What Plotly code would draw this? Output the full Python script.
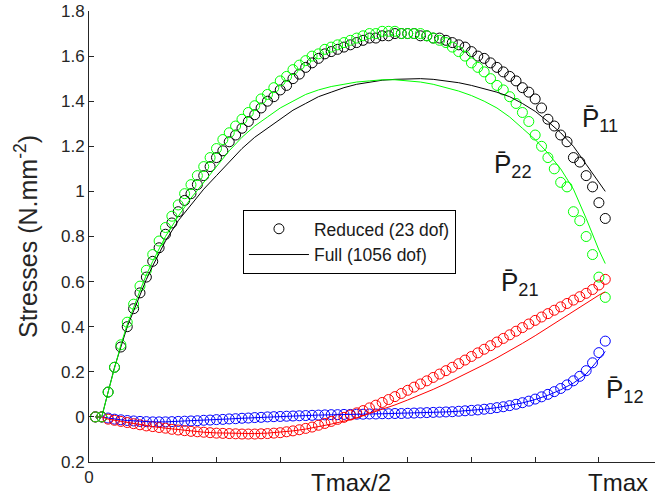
import plotly.graph_objects as go

# ---------------- data ----------------
t_red = list(range(1, 82))  # sample index (Tmax = 80)

p11_reduced = [0, 0, 0.11, 0.22, 0.31, 0.40, 0.48, 0.55, 0.62, 0.69,
               0.75, 0.81, 0.86, 0.91, 0.96, 0.99, 1.03, 1.07, 1.11, 1.15,
               1.18, 1.22, 1.25, 1.28, 1.31, 1.34, 1.37, 1.40, 1.42, 1.45,
               1.47, 1.50, 1.52, 1.55, 1.57, 1.59, 1.61, 1.62, 1.63, 1.64,
               1.65, 1.66, 1.67, 1.68, 1.68, 1.69, 1.69, 1.70, 1.70, 1.70,
               1.70, 1.69, 1.69, 1.68, 1.68, 1.67, 1.66, 1.65, 1.64, 1.62,
               1.60, 1.59, 1.57, 1.55, 1.53, 1.51, 1.49, 1.46, 1.44, 1.41,
               1.37, 1.32, 1.29, 1.25, 1.22, 1.15, 1.13, 1.07, 1.02, 0.95,
               0.88]

p22_reduced = [0, 0, 0.11, 0.22, 0.32, 0.42, 0.50, 0.58, 0.65, 0.72,
               0.78, 0.84, 0.89, 0.94, 0.99, 1.03, 1.07, 1.11, 1.15, 1.19,
               1.23, 1.26, 1.29, 1.32, 1.35, 1.38, 1.41, 1.43, 1.46, 1.49,
               1.51, 1.54, 1.56, 1.58, 1.60, 1.61, 1.63, 1.64, 1.65, 1.66,
               1.67, 1.68, 1.69, 1.70, 1.70, 1.71, 1.71, 1.71, 1.70, 1.70,
               1.70, 1.70, 1.69, 1.68, 1.67, 1.66, 1.64, 1.62, 1.60, 1.57,
               1.55, 1.53, 1.50, 1.47, 1.45, 1.42, 1.39, 1.35, 1.31, 1.25,
               1.20, 1.15, 1.10, 1.04, 1.02, 0.91, 0.87, 0.80, 0.72, 0.62,
               0.53]

p21_reduced = [0.00, 0.00, -0.010, -0.015, -0.020, -0.025, -0.030, -0.035, -0.040, -0.043,
               -0.047, -0.050, -0.055, -0.058, -0.061, -0.064, -0.066, -0.068, -0.070, -0.072,
               -0.073, -0.074, -0.075, -0.076, -0.076, -0.076, -0.075, -0.074, -0.072, -0.070,
               -0.066, -0.062, -0.057, -0.051, -0.045, -0.037, -0.029, -0.020, -0.011, -0.002,
               0.008, 0.018, 0.028, 0.040, 0.052, 0.064, 0.077, 0.090, 0.104, 0.118,
               0.132, 0.146, 0.160, 0.175, 0.190, 0.205, 0.220, 0.236, 0.252, 0.268,
               0.284, 0.300, 0.316, 0.332, 0.348, 0.364, 0.380, 0.396, 0.412, 0.428,
               0.443, 0.458, 0.473, 0.488, 0.503, 0.518, 0.533, 0.548, 0.565, 0.585,
               0.610]

p12_reduced = [0.000, 0.000, -0.005, -0.010, -0.013, -0.016, -0.018, -0.020, -0.021, -0.022,
               -0.022, -0.022, -0.021, -0.020, -0.019, -0.018, -0.017, -0.015, -0.014, -0.012,
               -0.011, -0.009, -0.008, -0.006, -0.005, -0.003, -0.002, 0.000, 0.001, 0.002,
               0.003, 0.004, 0.005, 0.006, 0.007, 0.008, 0.009, 0.010, 0.010, 0.011,
               0.011, 0.012, 0.012, 0.013, 0.013, 0.014, 0.014, 0.015, 0.015, 0.016,
               0.017, 0.018, 0.019, 0.020, 0.021, 0.022, 0.023, 0.025, 0.027, 0.029,
               0.031, 0.034, 0.037, 0.041, 0.045, 0.050, 0.056, 0.063, 0.070, 0.079,
               0.089, 0.100, 0.112, 0.126, 0.142, 0.160, 0.180, 0.205, 0.240, 0.285,
               0.336]

t_full = [1, 2, 3, 4, 5, 6, 7, 8, 9, 10, 12, 14, 16, 18, 20, 22, 24, 26, 28, 30,
          32, 34, 36, 38, 40, 42, 44, 46, 48, 50, 52, 54, 56, 58, 60, 62, 64, 66, 68, 70,
          72, 74, 76, 78, 80, 81]

p11_full = [0, 0, 0.11, 0.22, 0.31, 0.40, 0.47, 0.54, 0.61, 0.67, 0.78, 0.87, 0.94, 1.01, 1.07,
            1.13, 1.19, 1.24, 1.28, 1.32, 1.36, 1.39, 1.42, 1.44, 1.46, 1.475, 1.485, 1.493,
            1.497, 1.50, 1.50, 1.497, 1.49, 1.482, 1.47, 1.455, 1.44, 1.42, 1.39, 1.355,
            1.31, 1.26, 1.20, 1.12, 1.04, 1.00]

p22_full = [0, 0, 0.11, 0.22, 0.32, 0.41, 0.49, 0.56, 0.63, 0.69, 0.80, 0.89, 0.97, 1.04, 1.11,
            1.18, 1.24, 1.29, 1.33, 1.37, 1.40, 1.43, 1.45, 1.465, 1.475, 1.485, 1.49, 1.495,
            1.495, 1.49, 1.485, 1.475, 1.46, 1.445, 1.425, 1.40, 1.37, 1.33, 1.28, 1.23,
            1.17, 1.10, 1.01, 0.88, 0.74, 0.68]

p21_full = [0, 0, -0.010, -0.015, -0.020, -0.025, -0.030, -0.035, -0.040, -0.043, -0.050, -0.057,
            -0.063, -0.068, -0.071, -0.073, -0.074, -0.074, -0.072, -0.068, -0.062, -0.054,
            -0.044, -0.032, -0.019, -0.005, 0.015, 0.033, 0.053, 0.075, 0.098, 0.122, 0.148,
            0.175, 0.203, 0.232, 0.262, 0.293, 0.326, 0.360, 0.396, 0.433, 0.470, 0.505,
            0.540, 0.555]

p12_full = [0, 0, -0.005, -0.010, -0.013, -0.016, -0.018, -0.020, -0.021, -0.022, -0.022, -0.020,
            -0.018, -0.015, -0.012, -0.009, -0.006, -0.003, 0.000, 0.002, 0.004, 0.006, 0.008,
            0.010, 0.011, 0.012, 0.013, 0.014, 0.015, 0.016, 0.018, 0.020, 0.022, 0.025,
            0.029, 0.034, 0.041, 0.050, 0.062, 0.077, 0.096, 0.120, 0.150, 0.190, 0.255, 0.290]

series_names = ["P11", "P22", "P21", "P12"]
series_colors = ["#000000", "#00ff00", "#ff0000", "#0000ff"]

x_tick_vals = [0]
x_tick_text = ["0"]
x_minor_step = 10
x_big_labels = ["Tmax/2", "Tmax"]

y_tick_vals = [-0.2, 0, 0.2, 0.4, 0.6, 0.8, 1.0, 1.2, 1.4, 1.6, 1.8]
y_tick_text = ["0.2", "0", "0.2", "0.4", "0.6", "0.8", "1", "1.2", "1.4", "1.6", "1.8"]

curve_labels = ["P\u0304<sub>11</sub>", "P\u0304<sub>22</sub>", "P\u0304<sub>21</sub>", "P\u0304<sub>12</sub>"]

# ---------------- figure ----------------
FONT = "Liberation Sans, Arial, sans-serif"
AX = "#262626"

fig = go.Figure()

reduced = [p11_reduced, p22_reduced, p21_reduced, p12_reduced]
full = [p11_full, p22_full, p21_full, p12_full]
order = [0, 3, 2, 1]

for i in order:
    fig.add_trace(go.Scatter(
        x=t_red, y=reduced[i], mode="markers", showlegend=False,
        marker=dict(symbol="circle-open", size=10, color=series_colors[i],
                    line=dict(width=1, color=series_colors[i])),
        name=series_names[i] + " reduced"))
for i in order:
    fig.add_trace(go.Scatter(
        x=t_full, y=full[i], mode="lines", showlegend=False,
        line=dict(width=1, color=series_colors[i]),
        name=series_names[i] + " full"))

# legend-only entries
fig.add_trace(go.Scatter(
    x=[None], y=[None], mode="markers", name="Reduced (23 dof)",
    marker=dict(symbol="circle-open", size=10, color="#000000",
                line=dict(width=1, color="#000000"))))
fig.add_trace(go.Scatter(
    x=[None], y=[None], mode="lines", name="Full (1056 dof)",
    line=dict(width=1, color="#000000")))

# curve labels
label_pos = [(77.0, 1.40), (63.3, 1.195), (64.3, 0.672), (80.8, 0.197)]
for txt, (lx, ly) in zip(curve_labels, label_pos):
    fig.add_annotation(x=lx, y=ly, xref="x", yref="y", text=txt, showarrow=False,
                       xanchor="left", yanchor="top",
                       font=dict(family=FONT, size=26, color="#1a1a1a"))

# big x labels
for txt, lx in zip(x_big_labels, [41.1, 83.0]):
    fig.add_annotation(x=lx, y=-0.045, xref="x", yref="paper", text=txt, showarrow=False,
                       xanchor="center", yanchor="middle",
                       font=dict(family=FONT, size=24, color="#1a1a1a"))

fig.update_layout(
    width=658, height=502,
    margin=dict(l=89, r=3, t=11, b=40),
    paper_bgcolor="white", plot_bgcolor="white",
    font=dict(family=FONT, color=AX),
    showlegend=True,
    legend=dict(x=0.272, y=0.559, xanchor="left", yanchor="top",
                bgcolor="white", bordercolor="#000000", borderwidth=1,
                font=dict(family=FONT, size=17.5, color="#1a1a1a"),
                itemwidth=60, tracegroupgap=0),
    xaxis=dict(range=[0, 88.8], showgrid=False, zeroline=False, automargin=False,
               showline=True, linecolor=AX, linewidth=1,
               ticks="inside", ticklen=5, tickcolor=AX,
               tickvals=x_tick_vals, ticktext=x_tick_text,
               ticklabeloverflow="allow",
               minor=dict(ticks="inside", ticklen=5, tickcolor=AX,
                          tick0=0, dtick=x_minor_step, showgrid=False),
               tickfont=dict(family=FONT, size=17, color=AX)),
    yaxis=dict(range=[-0.2, 1.8], showgrid=False, zeroline=False, automargin=False,
               showline=True, linecolor=AX, linewidth=1,
               ticks="inside", ticklen=5, tickcolor=AX,
               tickvals=y_tick_vals, ticktext=y_tick_text,
               ticklabeloverflow="allow",
               tickfont=dict(family=FONT, size=17, color=AX),
               title=dict(text="Stresses (N.mm<sup>-2</sup>)",
                          font=dict(family=FONT, size=25, color=AX), standoff=16)),
)

# remove the default 8px page margin so the figure fills the window exactly
fig.write_html("out.html",
               config={"displayModeBar": False},
               post_script="document.body.style.margin='0';document.body.style.overflow='hidden';")
